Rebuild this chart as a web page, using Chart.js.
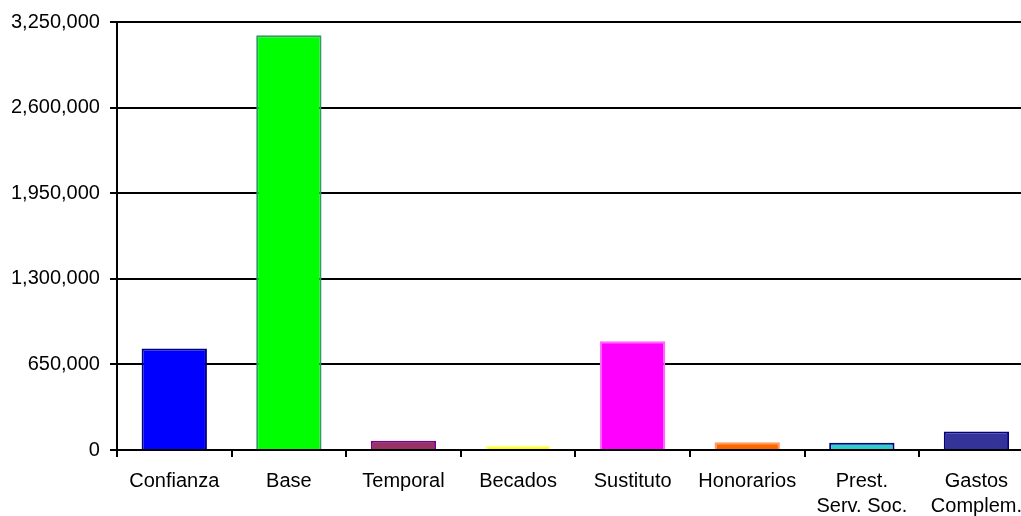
<!DOCTYPE html>
<html>
<head>
<meta charset="utf-8">
<script src="https://cdn.jsdelivr.net/npm/chart.js@4/dist/chart.umd.min.js"></script>
<style>
  html, body { margin: 0; padding: 0; background: #fff; overflow: hidden; }
  #wrap { width: 1021px; height: 516px; overflow: hidden; }
</style>
</head>
<body>
<div id="wrap"><canvas id="chart" width="1034" height="531"></canvas></div>
<script>
const categories = ['Confianza', 'Base', 'Temporal', 'Becados', 'Sustituto', 'Honorarios', ['Prest.', 'Serv. Soc.'], ['Gastos', 'Complem.']];
const amounts = [770000, 3150000, 70000, 35000, 825000, 58000, 55000, 141000];
const fillColors = ['#0000FF', '#00FF00', '#993366', '#FFFF00', '#FF00FF', '#FF6600', '#33CCCC', '#333399'];
const edgeColors = ['#000080', '#339966', '#800080', '#FFFF99', '#FF66FF', '#FF9966', '#000080', '#000080'];
const yTicks = [0, 650000, 1300000, 1950000, 2600000, 3250000];

const font = { family: 'Liberation Sans, Arial, sans-serif', size: 20 };

new Chart(document.getElementById('chart'), {
  type: 'bar',
  data: {
    labels: categories,
    datasets: [{
      data: amounts,
      backgroundColor: fillColors,
      borderColor: edgeColors,
      borderWidth: 2,
      barPercentage: 0.57,
      categoryPercentage: 1
    }]
  },
  options: {
    responsive: false,
    animation: false,
    layout: { padding: { left: 1, right: 0, top: 19, bottom: 0 } },
    plugins: { legend: { display: false }, tooltip: { enabled: false } },
    scales: {
      x: {
        grid: { drawOnChartArea: false, color: '#000', lineWidth: 2, tickLength: 7, tickColor: '#000' },
        border: { color: '#000', width: 2 },
        ticks: { color: '#000', font: { ...font, lineHeight: 1.25 }, padding: 12, maxRotation: 0, autoSkip: false }
      },
      y: {
        min: 0,
        max: 3250000,
        afterBuildTicks: axis => { axis.ticks = yTicks.map(v => ({ value: v })); },
        grid: { color: '#000', lineWidth: 2, tickLength: 7, tickColor: '#000' },
        border: { color: '#000', width: 2 },
        ticks: {
          color: '#000',
          font: font,
          padding: 10,
          callback: v => v.toLocaleString('en-US')
        }
      }
    }
  }
});
</script>
</body>
</html>
